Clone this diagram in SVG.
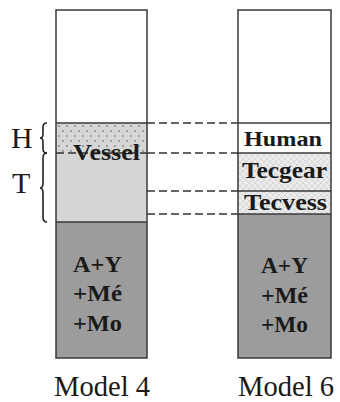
<svg xmlns="http://www.w3.org/2000/svg" width="340" height="402" viewBox="0 0 340 402">
<style>
.col{stroke:#3a3a3a;stroke-width:1.5}
.sep{stroke:#3a3a3a;stroke-width:1.5}
.dash{stroke:#333;stroke-width:1.3;stroke-dasharray:8 4;fill:none}
.b{font-family:"Liberation Serif","Times New Roman",serif;font-weight:bold;fill:#1a1a1a}
.r{font-family:"Liberation Serif","Times New Roman",serif;fill:#1a1a1a}
.brace{fill:none;stroke:#222;stroke-width:1.6}
</style>
<defs>
<pattern id="dots" width="8" height="10" patternUnits="userSpaceOnUse" x="56" y="123">
<rect width="8" height="10" fill="#d6d6d6"/>
<circle cx="3" cy="3" r="1" fill="#8a8a8a"/>
<circle cx="7" cy="8" r="1" fill="#8a8a8a"/>
</pattern>
<pattern id="hatch" width="6" height="6" patternUnits="userSpaceOnUse">
<rect width="6" height="6" fill="#ececec"/>
<path d="M0,0 L6,6 M6,0 L0,6" stroke="#d2d2d2" stroke-width="0.8"/>
</pattern>
</defs>

<g id="model4">
<rect x="56" y="10" width="91" height="113" fill="#fff"/>
<rect x="56" y="123" width="91" height="30" fill="url(#dots)"/>
<rect x="56" y="153" width="91" height="69" fill="#d5d5d5"/>
<rect x="56" y="222" width="91" height="136" fill="#9c9c9c"/>
<line class="sep" x1="56" y1="123" x2="147" y2="123"/>
<line class="sep" x1="56" y1="222" x2="147" y2="222"/>
<line class="dash" x1="56" y1="153" x2="147" y2="153"/>
<rect class="col" x="56" y="10" width="91" height="348" fill="none"/>
<text class="b" x="73" y="160" font-size="24" textLength="67" lengthAdjust="spacingAndGlyphs">Vessel</text>
<text class="b" x="73" y="272" font-size="23" textLength="49" lengthAdjust="spacingAndGlyphs">A+Y</text>
<text class="b" x="73" y="301" font-size="23" textLength="49" lengthAdjust="spacingAndGlyphs">+Mé</text>
<text class="b" x="73" y="331" font-size="23" textLength="49" lengthAdjust="spacingAndGlyphs">+Mo</text>
<text class="r" x="102" y="396" font-size="29" text-anchor="middle" textLength="96" lengthAdjust="spacingAndGlyphs">Model 4</text>
</g>

<g id="model6">
<rect x="238" y="10" width="93" height="143" fill="#fff"/>
<rect x="238" y="153" width="93" height="61" fill="url(#hatch)"/>
<rect x="238" y="214" width="93" height="144" fill="#9c9c9c"/>
<line class="sep" x1="238" y1="123" x2="331" y2="123"/>
<line class="sep" x1="238" y1="153" x2="331" y2="153"/>
<line class="sep" x1="238" y1="191" x2="331" y2="191"/>
<line class="sep" x1="238" y1="214" x2="331" y2="214"/>
<rect class="col" x="238" y="10" width="93" height="348" fill="none"/>
<text class="b" x="244" y="146" font-size="22" textLength="78" lengthAdjust="spacingAndGlyphs">Human</text>
<text class="b" x="242" y="178" font-size="24" textLength="85" lengthAdjust="spacingAndGlyphs">Tecgear</text>
<text class="b" x="244" y="210" font-size="24" textLength="83" lengthAdjust="spacingAndGlyphs">Tecvess</text>
<text class="b" x="261" y="273" font-size="23" textLength="47" lengthAdjust="spacingAndGlyphs">A+Y</text>
<text class="b" x="261" y="303" font-size="23" textLength="47" lengthAdjust="spacingAndGlyphs">+Mé</text>
<text class="b" x="261" y="332" font-size="23" textLength="47" lengthAdjust="spacingAndGlyphs">+Mo</text>
<text class="r" x="286" y="396" font-size="29" text-anchor="middle" textLength="96" lengthAdjust="spacingAndGlyphs">Model 6</text>
</g>

<g id="labels">
<text class="r" x="11" y="148" font-size="30">H</text>
<text class="r" x="12" y="193" font-size="30">T</text>
<path class="brace" d="M47,123 Q43,123 43,127 L43,134 Q43,138 40,138 Q43,138 43,142 L43,149 Q43,153 47,153"/>
<path class="brace" d="M47,153 Q43,153 43,158 L43,183 Q43,188 40,188 Q43,188 43,193 L43,217 Q43,222 47,222"/>
</g>

<g id="connectors">
<line class="dash" x1="147" y1="123" x2="238" y2="123"/>
<line class="dash" x1="147" y1="153" x2="238" y2="153"/>
<line class="dash" x1="147" y1="191" x2="238" y2="191"/>
<line class="dash" x1="147" y1="214" x2="238" y2="214"/>
</g>
</svg>
